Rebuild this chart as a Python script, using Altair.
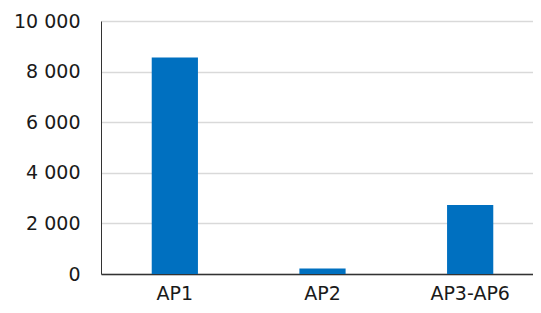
import altair as alt
import pandas as pd

categories = ["AP1", "AP2", "AP3-AP6"]
values = [8560, 220, 2730]

df = pd.DataFrame({"cat": categories, "val": values})

FONT = "DejaVu Sans"

chart = alt.Chart(df).mark_bar(color="#0070C0").encode(
    x=alt.X("cat:N", sort=categories, title=None,
            scale=alt.Scale(paddingInner=0.687, paddingOuter=0.3435, range=[0, 443]),
            axis=alt.Axis(labelAngle=0, labelFont=FONT, labelFontSize=19,
                          labelColor="#1a1a1a", labelPadding=29,
                          labelBaseline="bottom", ticks=False,
                          domainColor="#333333", domainWidth=1.5, grid=False)),
    y=alt.Y("val:Q", title=None,
            scale=alt.Scale(domain=[0, 10000], nice=False),
            axis=alt.Axis(values=[0, 2000, 4000, 6000, 8000, 10000],
                          labelExpr="replace(format(datum.value, ','), ',', ' ')",
                          labelFont=FONT, labelFontSize=19, labelColor="#1a1a1a",
                          labelPadding=21, ticks=False,
                          domainColor="#333333", domainWidth=1,
                          gridColor="#d9d9d9", gridWidth=1.5)),
).properties(
    width=432, height=253,
    autosize=alt.AutoSizeParams(type="none"),
    padding={"left": 93, "top": 13, "right": 0, "bottom": 29},
).configure_view(stroke=None)

chart.save("out.html", embed_options={"renderer": "svg", "actions": False})
